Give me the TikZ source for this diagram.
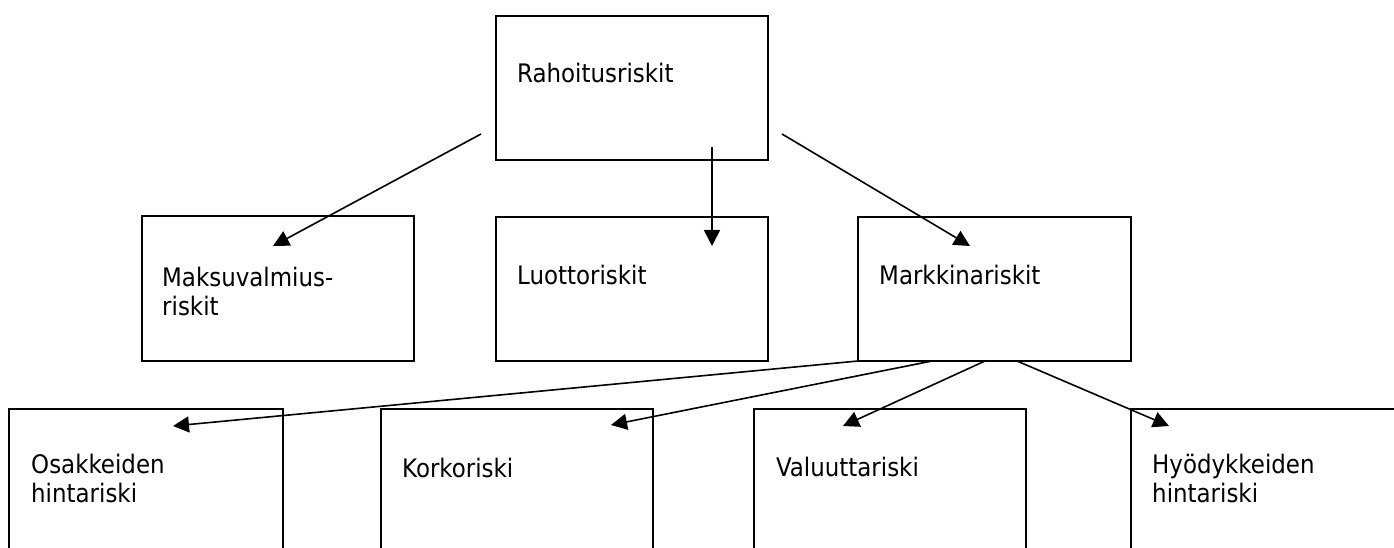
\documentclass[tikz,border=0pt]{standalone}
\usepackage{fontspec}
\setmainfont{DejaVu Sans Condensed}
\usetikzlibrary{arrows.meta}

\begin{document}
\begin{tikzpicture}[x=1pt,y=1pt,
  box/.style={draw=black, line width=2pt, rectangle, inner sep=0pt, outer sep=0pt,
              anchor=north west, minimum width=272pt, minimum height=144pt},
  lbl/.style={anchor=base west, align=left, inner sep=0pt,
              font=\fontsize{25.5}{29}\selectfont},
  link/.style={line width=1.6pt, -{Triangle[length=16pt,width=16pt]}}
]
% canvas
\useasboundingbox (0,0) rectangle (1394,547);
\clip (0,0) rectangle (1394,547);
\fill[white] (0,0) rectangle (1394,547);

% top level
\node[box] (rah) at (496,531) {};
\node[lbl] (rahT) at (517,464) {Rahoitusriskit};

% second level (two-line labels are placed by their last baseline)
\node[box, minimum height=145pt] (maks) at (142,331) {};
\node[lbl] (maksT) at (162,232) {Maksuvalmius-\\riskit};
\node[box] (luot) at (496,330) {};
\node[lbl] (luotT) at (517,263) {Luottoriskit};
\node[box, minimum width=273pt] (mark) at (858,330) {};
\node[lbl] (markT) at (879,263) {Markkinariskit};

% third level (runs off the lower and right edges)
\node[box, minimum width=274pt, minimum height=145pt] (osak) at (9,138) {};
\node[lbl] (osakT) at (31,45) {Osakkeiden\\hintariski};
\node[box, minimum height=145pt] (kork) at (381,138) {};
\node[lbl] (korkT) at (402,70) {Korkoriski};
\node[box, minimum height=145pt] (valu) at (754,138) {};
\node[lbl] (valuT) at (776,71) {Valuuttariski};
\node[box, minimum width=273pt, minimum height=145pt] (hyod) at (1131,138) {};
\node[lbl] (hyodT) at (1152,45) {Hyödykkeiden\\hintariski};

% connector ends
\coordinate (rahL) at (481,413);
\coordinate (rahM) at (712,400);
\coordinate (rahR) at (782,413);
\coordinate (maksIn) at (273,301);
\coordinate (luotIn) at (712,301);
\coordinate (markIn) at (970,301);

\coordinate (mark1) at (858,186);
\coordinate (mark2) at (932,186);
\coordinate (mark3) at (985,186);
\coordinate (mark4) at (1017,186);
\coordinate (osakIn) at (173,121);
\coordinate (korkIn) at (611,122);
\coordinate (valuIn) at (843,121);
\coordinate (hyodIn) at (1169,121);

% connectors
\draw[link] (rahL) -- (maksIn);
\draw[link] (rahM) -- (luotIn);
\draw[link] (rahR) -- (markIn);
\draw[link] (mark1) -- (osakIn);
\draw[link] (mark2) -- (korkIn);
\draw[link] (mark3) -- (valuIn);
\draw[link] (mark4) -- (hyodIn);
\end{tikzpicture}
\end{document}
